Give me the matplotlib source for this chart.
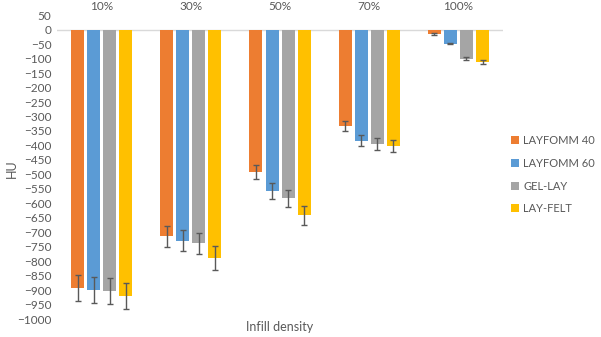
import numpy as np
import matplotlib
matplotlib.use('Agg')
import matplotlib.pyplot as plt

plt.rcParams['font.family'] = ['Lato', 'DejaVu Sans']

categories = ['10%', '30%', '50%', '70%', '100%']
series = ['LAYFOMM 40', 'LAYFOMM 60', 'GEL-LAY', 'LAY-FELT']
values = {
    'LAYFOMM 40': [-891, -714, -492, -332, -16],
    'LAYFOMM 60': [-899, -729, -558, -384, -49],
    'GEL-LAY':    [-903, -738, -582, -396, -101],
    'LAY-FELT':   [-919, -789, -641, -402, -112],
}
errors = {
    'LAYFOMM 40': [45, 36, 25, 18, 3],
    'LAYFOMM 60': [45, 37, 28, 19, 2],
    'GEL-LAY':    [45, 37, 29, 20, 5],
    'LAY-FELT':   [45, 40, 33, 20, 6],
}
colors = ['#ED7D31', '#5B9BD5', '#A5A5A5', '#FFC000']

fig = plt.figure(figsize=(6.01, 3.37), dpi=100)
ax = fig.add_axes([0.095, 0.053, 0.742, 0.902])

x = np.arange(len(categories))
step = 0.18
width = 0.146
for i, (name, c) in enumerate(zip(series, colors)):
    ax.bar(x + (i - 1.5) * step, values[name], width, color=c, label=name,
           yerr=errors[name], capsize=2.5,
           error_kw=dict(ecolor='#595959', elinewidth=1, capthick=1))

ax.set_xlim(-0.5, len(categories) - 0.5)
ax.set_ylim(-1000, 50)
ax.set_yticks(np.arange(-1000, 51, 50))
ax.tick_params(axis='y', length=0, labelsize=8.5, labelcolor='#595959', pad=4)
ax.xaxis.tick_top()
ax.set_xticks(x)
ax.set_xticklabels(categories)
ax.tick_params(axis='x', length=0, labelsize=8.5, labelcolor='#595959', pad=2)
for s in ['top', 'right', 'left', 'bottom']:
    ax.spines[s].set_visible(False)
ax.axhline(0, color='#D9D9D9', linewidth=1, zorder=0)

fig.text(0.019, 0.5, 'HU', rotation=90, va='center', ha='center',
         fontsize=9, color='#595959')
fig.text(0.466, 0.03, 'Infill density', va='center', ha='center',
         fontsize=9, color='#595959')

ax.legend(loc='center left', bbox_to_anchor=(1.0, 0.475), frameon=False,
          fontsize=8, labelcolor='#595959', handlelength=0.7,
          handleheight=0.7, handletextpad=0.4, labelspacing=1.05,
          borderaxespad=0.3)

fig.savefig('out.png', dpi=100)
